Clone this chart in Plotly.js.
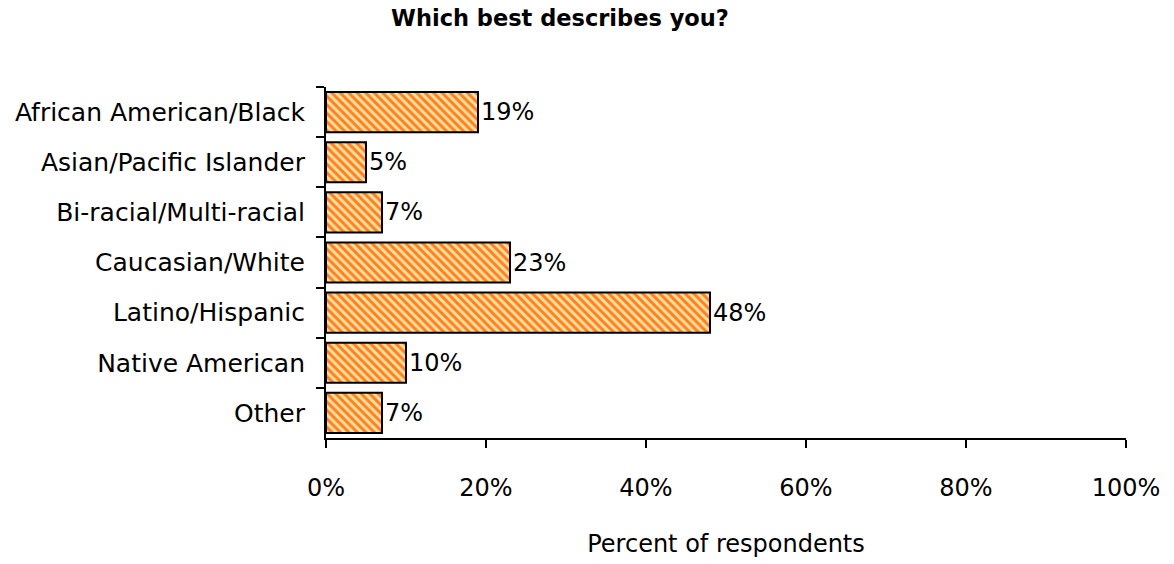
<!DOCTYPE html>
<html>
<head>
<meta charset="utf-8">
<script src="https://cdn.plot.ly/plotly-3.0.1.min.js"></script>
<style>html,body{margin:0;padding:0;background:#fff;}#chart{width:1174px;height:564px;}</style>
</head>
<body>
<div id="chart"></div>
<script>
const categories = ["African American/Black", "Asian/Pacific Islander", "Bi-racial/Multi-racial", "Caucasian/White", "Latino/Hispanic", "Native American", "Other"];
const values = [19, 5, 7, 23, 48, 10, 7];
const valueLabels = values.map(v => v + "%");
const xTicks = [0, 20, 40, 60, 80, 100];
const xTickLabels = ["0%", "20%", "40%", "60%", "80%", "100%"];

const FONT = "DejaVu Sans, Verdana, sans-serif";

const trace = {
  type: "bar",
  orientation: "h",
  y: categories,
  x: values,
  text: valueLabels,
  textposition: "outside",
  cliponaxis: false,
  textfont: {family: FONT, size: 24, color: "#000"},
  marker: {
    color: "#FFE0A0",
    line: {color: "#000", width: 2},
    pattern: {shape: "\\", fgcolor: "#FF7F1E", bgcolor: "#FFE0A0", size: 6, solidity: 0.5}
  },
  hoverinfo: "none"
};

const layout = {
  width: 1174, height: 564,
  margin: {l: 326, r: 48, t: 87, b: 126},
  paper_bgcolor: "#fff", plot_bgcolor: "#fff",
  bargap: 0.2,
  showlegend: false,
  font: {family: FONT, size: 24, color: "#000"},
  title: {
    text: "<b>Which best describes you?</b>",
    x: 0.477, xanchor: "center", y: 0.967, yanchor: "middle",
    font: {family: FONT, size: 22.5, color: "#000"}
  },
  xaxis: {
    range: [0, 100],
    tickvals: xTicks, ticktext: xTickLabels,
    ticks: "outside", ticklen: 8, tickwidth: 2, tickcolor: "#000",
    showline: true, linecolor: "#000", linewidth: 2,
    showgrid: false, zeroline: false,
    tickfont: {family: FONT, size: 24},
    ticklabelstandoff: 19,
    title: {text: "Percent of respondents", font: {family: FONT, size: 24}, standoff: 34}
  },
  yaxis: {
    autorange: "reversed",
    type: "category",
    ticks: "outside", ticklen: 8, tickwidth: 2, tickcolor: "#000",
    tickson: "boundaries",
    showline: true, linecolor: "#000", linewidth: 2,
    showgrid: false, zeroline: false,
    tickfont: {family: FONT, size: 25},
    ticklabelstandoff: 14
  }
};

Plotly.newPlot("chart", [trace], layout, {staticPlot: true, displayModeBar: false});
</script>
</body>
</html>
